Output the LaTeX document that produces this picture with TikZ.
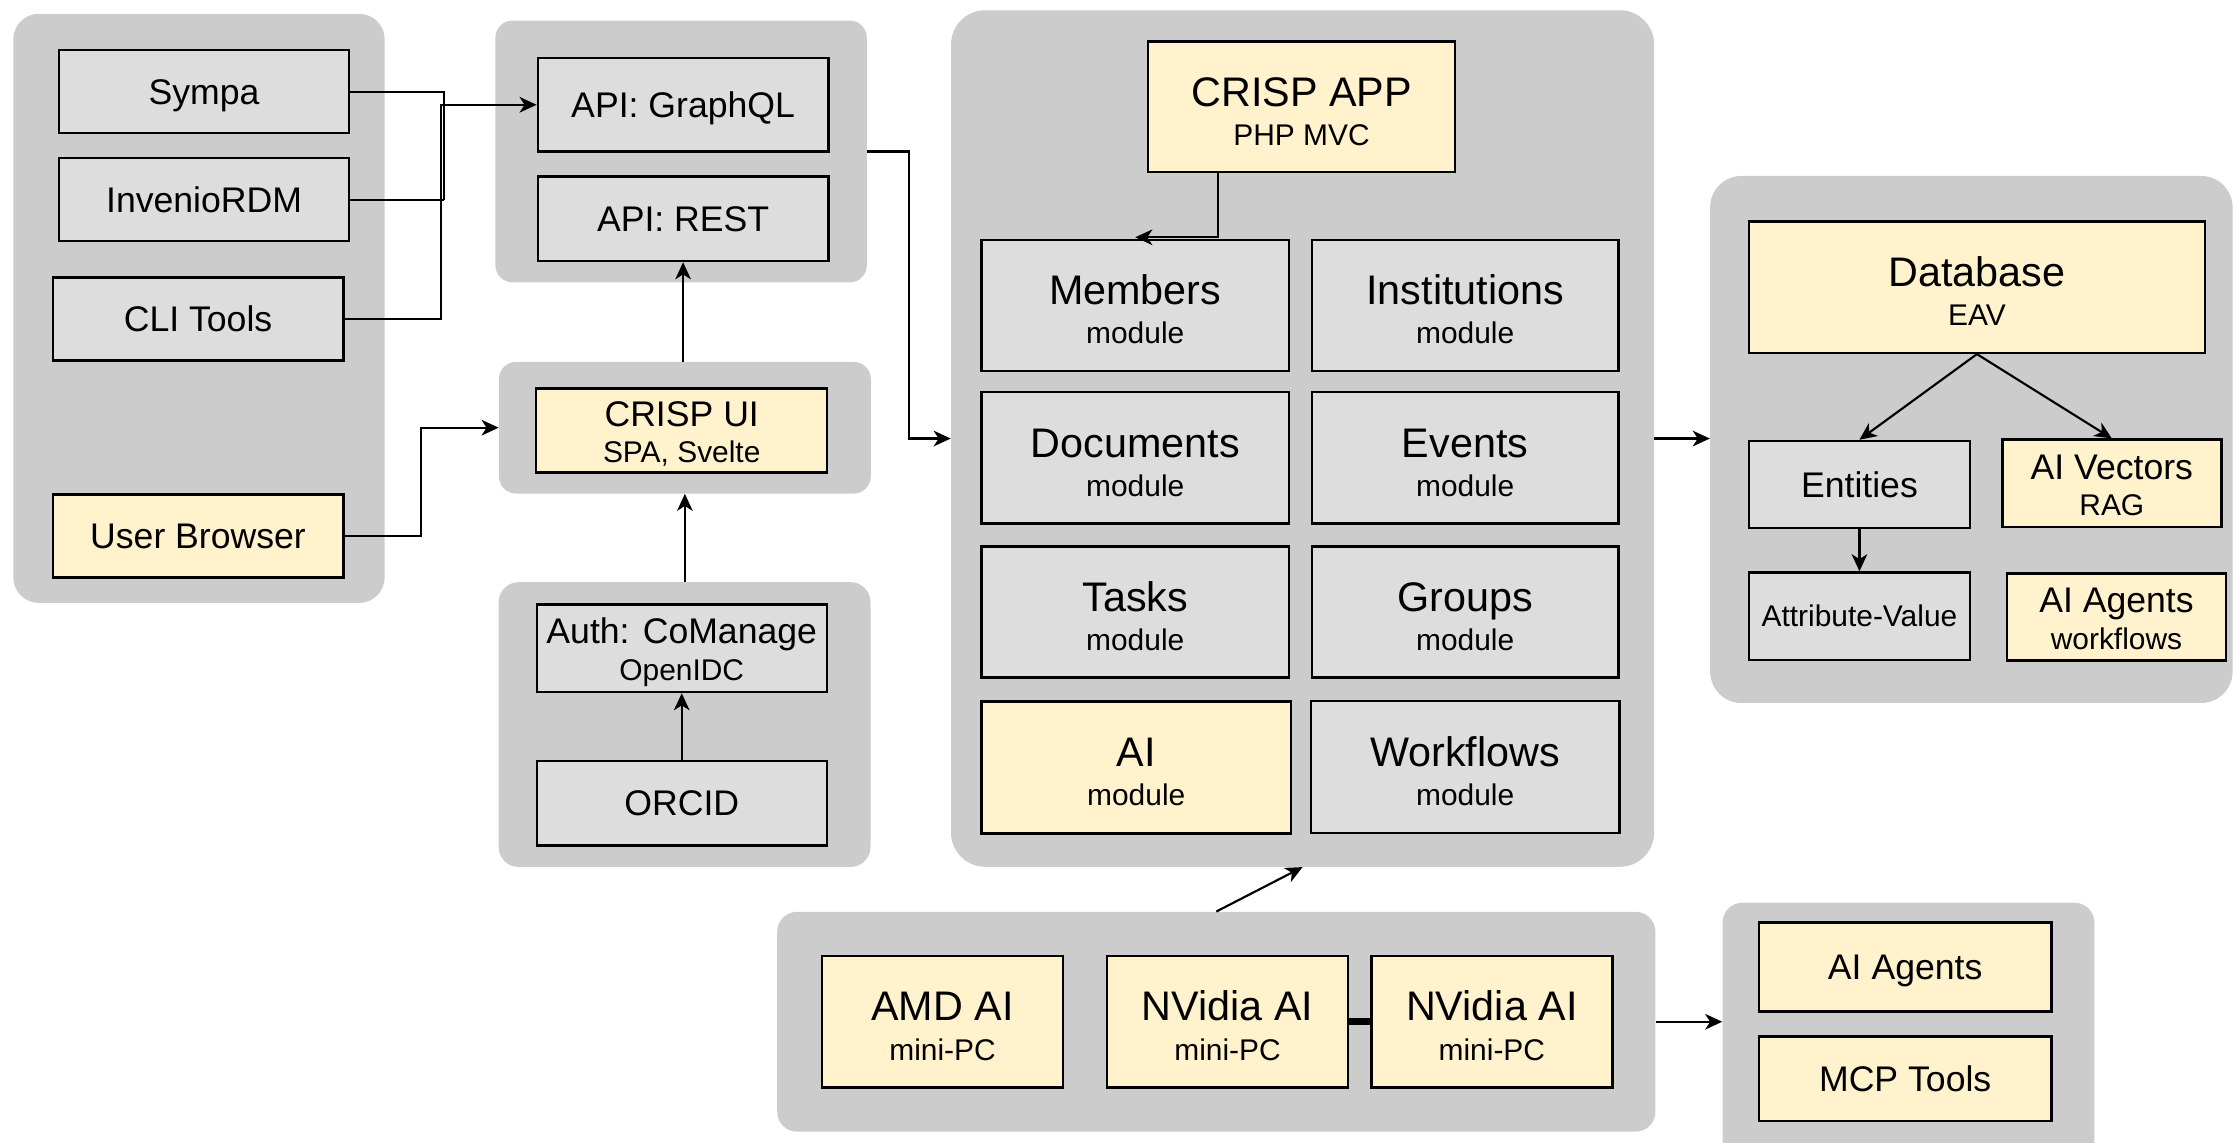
\documentclass[tikz,border=0pt]{standalone}
\usepackage{fontspec}
\setmainfont{Liberation Sans}
\usetikzlibrary{arrows.meta,calc}
\definecolor{panelc}{HTML}{CCCCCC}
\definecolor{boxg}{HTML}{DDDDDD}
\definecolor{boxy}{HTML}{FFF2CC}
\tikzset{
  panel/.style={fill=panelc, draw=none, inner sep=0pt, rounded corners=14pt},
  gbox/.style={draw=black, line width=1.7pt, fill=boxg, inner sep=0pt},
  ybox/.style={gbox, fill=boxy},
  one/.style={font=\fontsize{25}{28}\selectfont, text height=17.9pt, text depth=0pt},
  onesm/.style={font=\fontsize{21}{24}\selectfont, text height=15pt, text depth=0pt},
  ttlbig/.style={font=\fontsize{29}{32}\selectfont, anchor=base, inner sep=0pt},
  ttlmid/.style={font=\fontsize{25}{28}\selectfont, anchor=base, inner sep=0pt},
  subt/.style={font=\fontsize{21}{24}\selectfont, anchor=base, inner sep=0pt},
  wire/.style={line width=1.5pt},
  conn/.style={line width=1.5pt, -{Stealth[length=12pt,width=11pt,inset=3.5pt]}}
}
\newcommand\mkbig[7]{%
  \node[#2, minimum width=#4pt, minimum height=#5pt] (#1) at #3 {};
  \node[ttlbig] (#1-t) at ($(#1.center)+(0,-0.5)$) {#6};
  \node[subt] (#1-s) at ($(#1.center)+(0,27)$) {#7};}
\newcommand\mkmid[7]{%
  \node[#2, minimum width=#4pt, minimum height=#5pt] (#1) at #3 {};
  \node[ttlmid] (#1-t) at ($(#1.center)+(0,-3)$) {#6};
  \node[subt] (#1-s) at ($(#1.center)+(0,22.5)$) {#7};}
\begin{document}
\begin{tikzpicture}[x=1pt,y=-1pt]
\useasboundingbox (0,0) rectangle (1568,802);
% panels
\node[panel, rounded corners=18pt, minimum width=260.7pt, minimum height=413.5pt] (pleft) at (139.65,216.45) {};
\node[panel, rounded corners=12pt, minimum width=260.7pt, minimum height=183.8pt] (papi) at (478.05,106.3) {};
\node[panel, rounded corners=12pt, minimum width=261pt, minimum height=92.4pt] (pui) at (480.7,300.2) {};
\node[panel, minimum width=261pt, minimum height=199.9pt] (pauth) at (480.5,508.55) {};
\node[panel, rounded corners=24pt, minimum width=493.5pt, minimum height=601.2pt] (papp) at (914.25,307.8) {};
\node[panel, rounded corners=22pt, minimum width=366.7pt, minimum height=369.9pt] (pdb) at (1383.65,308.45) {};
\node[panel, minimum width=616.4pt, minimum height=154.3pt] (pbot) at (853.7,717.15) {};
\node[panel, minimum width=261pt, minimum height=186.4pt] (pright) at (1339.5,726.8) {};
% left column
\node[gbox, one, minimum width=203.5pt, minimum height=58.3pt] (sympa) at (143.25,64.35) {Sympa};
\node[gbox, one, minimum width=203.5pt, minimum height=58.3pt] (invenio) at (143.25,140.15) {InvenioRDM};
\node[gbox, one, minimum width=204pt, minimum height=58.3pt] (cli) at (139,223.95) {CLI Tools};
\node[ybox, one, minimum width=204pt, minimum height=58.2pt] (browser) at (139,376.1) {User Browser};
% API / UI / Auth
\node[gbox, one, minimum width=203.9pt, minimum height=65.5pt] (graphql) at (479.45,73.55) {API: GraphQL};
\node[gbox, one, minimum width=203.9pt, minimum height=59.2pt] (rest) at (479.45,153.6) {API: REST};
\mkmid{crispui}{ybox}{(478.5,302.25)}{204.2}{58.9}{CRISP UI}{SPA, Svelte}
\mkmid{auth}{gbox}{(478.5,455)}{203.5}{61.4}{Auth: CoManage}{OpenIDC}
\node[gbox, one, minimum width=203.5pt, minimum height=59.5pt] (orcid) at (478.5,563.75) {ORCID};
% app
\mkbig{crispapp}{ybox}{(913.55,74.95)}{215.5}{91.9}{CRISP APP}{PHP MVC}
\mkbig{members}{gbox}{(796.8,214.35)}{215.6}{91.9}{Members}{module}
\mkbig{institutions}{gbox}{(1028.35,214.35)}{215.3}{91.9}{Institutions}{module}
\mkbig{documents}{gbox}{(796.8,321.35)}{215.6}{92.3}{Documents}{module}
\mkbig{events}{gbox}{(1028.35,321.35)}{215.3}{92.3}{Events}{module}
\mkbig{tasks}{gbox}{(796.8,429.55)}{215.6}{91.9}{Tasks}{module}
\mkbig{groups}{gbox}{(1028.35,429.55)}{215.3}{91.9}{Groups}{module}
\mkbig{aimod}{ybox}{(797.5,538.7)}{217}{92.6}{AI}{module}
\mkbig{workflows}{gbox}{(1028.35,538.4)}{216.5}{92.6}{Workflows}{module}
% database
\mkbig{database}{ybox}{(1387.55,201.55)}{319.9}{92.3}{Database}{EAV}
\node[gbox, one, minimum width=155pt, minimum height=61pt] (entities) at (1305.1,340) {Entities};
\mkmid{vectors}{ybox}{(1482.25,339.3)}{153.7}{61.4}{AI Vectors}{RAG}
\node[gbox, onesm, minimum width=155pt, minimum height=61.5pt] (attrval) at (1305.1,432.55) {Attribute-Value};
\mkmid{agentsdb}{ybox}{(1485.5,433.15)}{153.8}{61.1}{AI Agents}{workflows}
% bottom
\mkbig{amd}{ybox}{(661.55,717.1)}{169.1}{92.2}{AMD AI}{mini-PC}
\mkbig{nvone}{ybox}{(861.6,717.1)}{169.2}{92.2}{NVidia AI}{mini-PC}
\mkbig{nvtwo}{ybox}{(1047.1,717.1)}{169.2}{92.2}{NVidia AI}{mini-PC}
\node[ybox, one, minimum width=205.6pt, minimum height=62.4pt] (agents) at (1337.2,678.8) {AI Agents};
\node[ybox, one, minimum width=205.6pt, minimum height=59pt] (mcp) at (1337.2,757.1) {MCP Tools};
% connectors
\coordinate (j1) at (311.5,140.15);
\draw[wire] (sympa.east) -| (j1);
\draw[wire] (invenio.east) -- (j1);
\coordinate (j2) at (309.4,73.55);
\draw[conn] (cli.east) -| (j2) -- (graphql.west);
\coordinate (j3) at (295.4,300.2);
\draw[conn] (browser.east) -| (j3) -- (pui.west);
\draw[conn] (rest.south |- pui.north) -- (rest.south);
\draw[conn] (pui.south |- pauth.north) -- (pui.south);
\draw[conn] (orcid.north) -- (auth.south);
\coordinate (j4) at (638,307.8);
\draw[conn] (papi.east) -| (j4) -- (papp.west);
\path (crispapp.south) ++(-58.75,0) coordinate (a1);
\draw[conn] (a1) |- ($(members.north)+(0,-1)$);
\draw[conn] (papp.east) -- (papp.east -| pdb.west);
\draw[conn] (database.south) -- (entities.north);
\draw[conn] (database.south) -- (vectors.north);
\draw[conn] (entities.south) -- (attrval.north);
\draw[conn] (pbot.north) -- (papp.south);
\draw[conn] (pbot.east) -- (pbot.east -| pright.west);
\draw[line width=4.5pt] (nvone.east) -- (nvtwo.west);
\end{tikzpicture}
\end{document}
